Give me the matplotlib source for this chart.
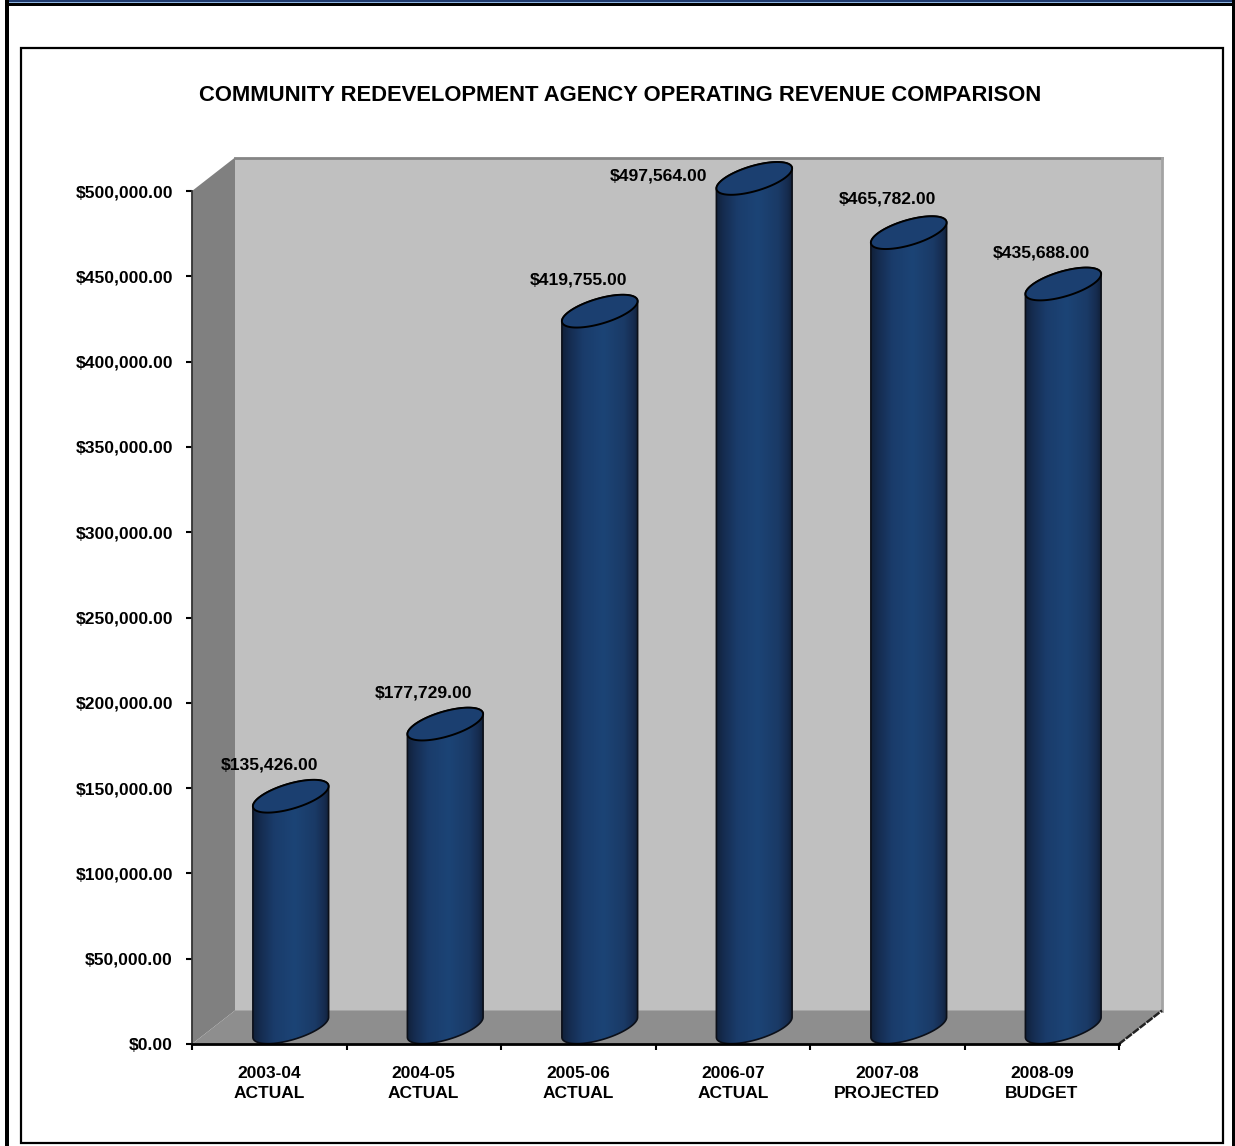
# Operating revenue comparison, drawn as a 3D style cylinder chart
import numpy as np
import matplotlib
matplotlib.use('Agg')
import matplotlib.pyplot as plt
from matplotlib.colors import LinearSegmentedColormap
from matplotlib.patches import Polygon, Rectangle
from matplotlib.path import Path

plt.rcParams['font.family'] = ['Liberation Sans', 'DejaVu Sans']
plt.rcParams['font.weight'] = 'bold'

years = ['2003-04', '2004-05', '2005-06', '2006-07', '2007-08', '2008-09']
kinds = ['ACTUAL', 'ACTUAL', 'ACTUAL', 'ACTUAL', 'PROJECTED', 'BUDGET']
revenue = [135426, 177729, 419755, 497564, 465782, 435688]
y_ticks = [0, 50000, 100000, 150000, 200000, 250000, 300000, 350000, 400000, 450000, 500000]

W, H = 1235, 1146
fig = plt.figure(figsize=(W / 100, H / 100), dpi=100, facecolor='white')

# page frame, in pixels
page = fig.add_axes([0, 0, 1, 1])
page.set_xlim(0, W)
page.set_ylim(H, 0)
page.axis('off')
page.add_patch(Rectangle((5, 0), 4, H, color='black', lw=0))
page.add_patch(Rectangle((1232, 0), 3, H, color='black', lw=0))
page.add_patch(Rectangle((9, 0), 1223, 2, color='#1f3a6e', lw=0))
page.add_patch(Rectangle((9, 2), 1223, 1, color='#8fb4e0', lw=0))
page.add_patch(Rectangle((9, 3), 1223, 3, color='black', lw=0))
page.add_patch(Rectangle((21, 48), 1202, 1095, fill=False, ec='black', lw=1.6))
page.text(620, 95.5, 'COMMUNITY REDEVELOPMENT AGENCY OPERATING REVENUE COMPARISON',
          ha='center', va='center', fontsize=15.8, color='black')

# value axes
ax = fig.add_axes([192 / W, 1 - 1044 / H, (1119 - 192) / W, (1044 - 191) / H])
ax.set_xlim(0, 6)
ax.set_ylim(0, 500000)
ax.patch.set_visible(False)

# depth of the box, in data units
dx = 43 / 154.5
dy = 33.5 / 853 * 500000

ax.add_patch(Polygon([(0, 0), (dx, dy), (dx, 500000 + dy), (0, 500000)], color='#808080', lw=0, clip_on=False))
ax.add_patch(Polygon([(dx, dy), (6 + dx, dy), (6 + dx, 500000 + dy), (dx, 500000 + dy)], color='#c0c0c0', lw=0, clip_on=False))
ax.add_patch(Polygon([(0, 0), (dx, dy), (6 + dx, dy), (6, 0)], color='#8e8e8e', lw=0, clip_on=False))
ax.plot([dx, 6 + dx], [500000 + dy, 500000 + dy], color='#858585', lw=2, clip_on=False)
ax.plot([6 + dx, 6 + dx], [dy, 500000 + dy], color='#a3a3a3', lw=2, clip_on=False)
ax.plot([6, 6 + dx], [0, dy], color='#222222', lw=1.8, ls=(0, (3, 0.5)), clip_on=False)

# horizontal shading of the cylinders
shade = LinearSegmentedColormap.from_list('shade', [
    (0, '#11213a'), (0.1, '#152c50'), (0.28, '#1a3c6b'), (0.55, '#1c4476'),
    (0.82, '#1a3a66'), (0.94, '#162c50'), (1, '#11213a')])
gradient = np.linspace(0, 1, 256).reshape(1, -1)

half = 0.245
t = np.linspace(0, 2 * np.pi, 121)
slant = 10 / 853 * 500000
minor = 13 / 853 * 500000


def ellipse(cx, cy, angle):
    return (cx + half * np.cos(angle),
            cy + slant * np.cos(angle) + minor * np.sin(angle))


for i, value in enumerate(revenue):
    cx = i + 0.5 + dx / 2
    top = value + dy / 2
    base = dy / 2

    # side of the cylinder: lower half of the base, then up to the top rim
    low_x, low_y = ellipse(cx, base, np.linspace(np.pi, 2 * np.pi, 61))
    rim_x, rim_y = ellipse(cx, top, np.linspace(0, np.pi, 61))
    side = np.column_stack([np.r_[low_x, rim_x], np.maximum(np.r_[low_y, rim_y], 0)])
    ax.add_patch(Polygon(side, closed=True, fc='none', ec='#0b0f18', lw=1.2, clip_on=False, zorder=3))
    img = ax.imshow(gradient, cmap=shade, aspect='auto', zorder=2.5,
                    extent=(cx - half, cx + half, 0, top + 2 * slant + minor))
    # the top of the tallest cylinder rises above the axes box
    img.set_clip_box(fig.bbox)
    img.set_clip_path(Path(side), ax.transData)

    # top rim
    top_x, top_y = ellipse(cx, top, t)
    ax.add_patch(Polygon(np.column_stack([top_x, top_y]), closed=True, fc='#1b3f70',
                         ec='black', lw=1.4, clip_on=False, zorder=4))

    # the largest value sits to the left of its cylinder
    if value == max(revenue):
        pos, offset = (i + 0.5 - 74 / 154.5, value), (0, 13.5)
    elif years[i] == '2007-08':
        pos, offset = (i + 0.5, value), (0, 36.4)
    else:
        pos, offset = (i + 0.5, value), (0, 34.4)
    ax.annotate('${:,.2f}'.format(value), pos, xytext=offset, textcoords='offset points',
                ha='center', va='center', fontsize=12.6, color='black', zorder=5,
                annotation_clip=False)

ax.set_xlim(0, 6)
ax.set_ylim(0, 500000)

ax.set_yticks(y_ticks)
ax.set_yticklabels(['${:,.2f}'.format(v) for v in y_ticks], fontsize=12.6)
ax.set_xticks(range(7))
ax.set_xticklabels([])
ax.set_xticks(np.arange(6) + 0.5, minor=True)
ax.set_xticklabels([y + '\n' + k for y, k in zip(years, kinds)], minor=True, fontsize=12.5, linespacing=1.36)
ax.tick_params(axis='x', which='major', length=4, width=1.5, color='black')
ax.tick_params(axis='x', which='minor', length=0, pad=16)
ax.tick_params(axis='y', length=4, width=1.5, color='black', pad=9.8)

for name in ['top', 'right']:
    ax.spines[name].set_visible(False)
ax.spines['bottom'].set_linewidth(2)
ax.spines['bottom'].set_zorder(6)
ax.spines['left'].set_linewidth(1.3)
ax.spines['left'].set_color('#333333')

plt.savefig('out.png', dpi=100)
